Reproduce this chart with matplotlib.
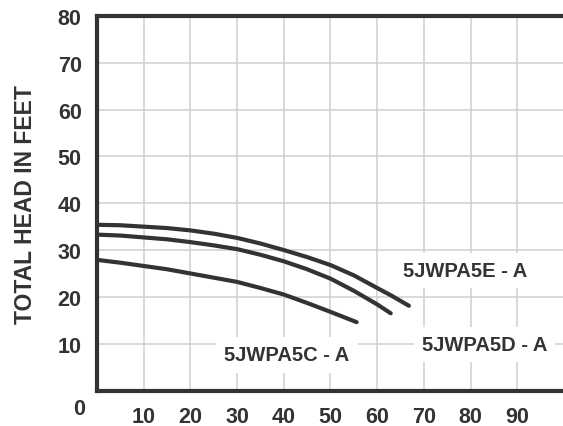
import matplotlib
matplotlib.use('Agg')
import matplotlib.pyplot as plt

# Pump curves (flow in GPM vs total head in feet)
flow_e = [0, 5, 10, 15, 20, 25, 30, 35, 40, 45, 50, 55, 60, 63, 66.8]
head_e = [35.4, 35.3, 35.0, 34.7, 34.2, 33.5, 32.6, 31.4, 30.0, 28.5, 26.8, 24.6, 21.9, 20.3, 18.1]

flow_d = [0, 5, 10, 15, 20, 25, 30, 35, 40, 45, 50, 55, 60, 62.9]
head_d = [33.3, 33.1, 32.7, 32.3, 31.7, 31.0, 30.2, 29.0, 27.6, 25.9, 23.9, 21.3, 18.4, 16.5]

flow_c = [0, 5, 10, 15, 20, 25, 30, 35, 40, 45, 50, 55.6]
head_c = [27.9, 27.3, 26.6, 25.9, 25.0, 24.1, 23.2, 21.9, 20.5, 18.7, 16.8, 14.6]

curve_labels = ['5JWPA5E - A', '5JWPA5D - A', '5JWPA5C - A']
label_pos = [(78.8, 25.6), (83.0, 9.8), (40.7, 7.6)]

x_ticks = [10, 20, 30, 40, 50, 60, 70, 80, 90]
y_ticks = [10, 20, 30, 40, 50, 60, 70, 80]

ink = '#333333'
plt.rcParams['font.family'] = ['Liberation Sans', 'DejaVu Sans']
plt.rcParams['font.weight'] = 'bold'

fig = plt.figure(figsize=(5.63, 4.27), dpi=100)
ax = fig.add_axes([97 / 563, 35.5 / 427, 466 / 563, 374.5 / 427])

ax.set_xlim(0, 99.8)
ax.set_ylim(0, 80)

for x in x_ticks:
    ax.axvline(x, color='#cfcfcf', linewidth=1.1, zorder=0)
for y in y_ticks[:-1]:
    ax.axhline(y, color='#cfcfcf', linewidth=1.1, zorder=0)

for fx, hy in [(flow_e, head_e), (flow_d, head_d), (flow_c, head_c)]:
    ax.plot(fx, hy, color=ink, linewidth=3, solid_capstyle='round', zorder=3)

for txt, (lx, ly) in zip(curve_labels, label_pos):
    ax.text(lx, ly, txt, ha='center', va='center', fontsize=14.5, fontweight='bold',
            color=ink, zorder=2,
            bbox=dict(facecolor='white', edgecolor='none', pad=6))

ax.set_xticks(x_ticks)
ax.set_yticks(y_ticks)
ax.tick_params(length=0, labelsize=15.5, labelcolor=ink, pad=11)
for lab in ax.get_xticklabels() + ax.get_yticklabels():
    lab.set_fontweight('bold')
ax.text(-12 * 99.8 / 466, -18.5 * 80 / 374.5, '0', ha='right', va='center',
        fontsize=15.5, fontweight='bold', color=ink, clip_on=False)

for side in ['left', 'bottom', 'top']:
    ax.spines[side].set_linewidth(3)
    ax.spines[side].set_color(ink)
ax.spines['right'].set_visible(False)

fig.text(26 / 563, 1 - 205 / 427, 'TOTAL HEAD IN FEET', rotation=90, ha='center',
         va='center', fontsize=16.5, fontweight='bold', color=ink)

fig.savefig('out.png', dpi=100)
